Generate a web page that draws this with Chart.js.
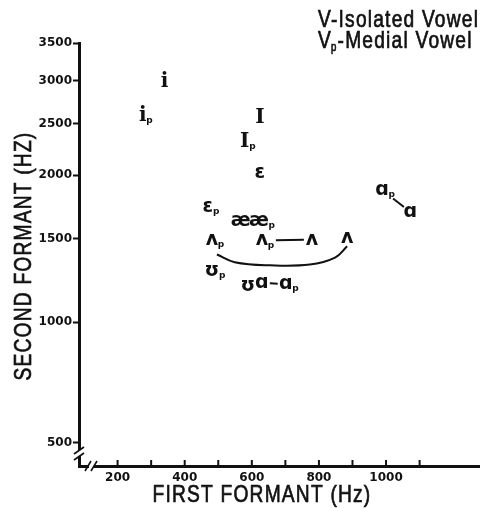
<!DOCTYPE html>
<html>
<head>
<meta charset="utf-8">
<script src="https://cdn.jsdelivr.net/npm/chart.js@4.4.0/dist/chart.umd.min.js"></script>
<style>
  html, body { margin: 0; padding: 0; background: #fff; }
</style>
</head>
<body>
<canvas id="vowel_chart" width="480" height="508"></canvas>
<script>
// vowel symbols; MEDIAL marks the "p" (medial) versions
const VOWELS = ['i', 'i', 'I', 'I', 'ɛ', 'ɛ', 'æ', 'æ', 'ʌ', 'ʌ', 'ʌ', 'ʌ', 'ʊ', 'ʊ', 'ɑ', 'ɑ', 'ɑ', 'ɑ'];
const MEDIAL = [false, true, false, true, false, true, false, true, true, true, false, false, true, false, false, true, true, false];
// first and second formant, Hz
const F1 = [340, 275, 624, 579, 624, 469, 567, 621, 481, 630, 779, 884, 481, 588, 630, 701, 988, 1072];
const F2 = [2980, 2585, 2562, 2313, 2022, 1738, 1631, 1631, 1495, 1490, 1495, 1508, 1291, 1200, 1218, 1210, 1875, 1699];
// pairs joined by a short dash
const LINKS = [[9, 10], [14, 15], [16, 17]];
// brace under the ʌ group
const BRACE_F1 = [496, 549, 654, 773, 848, 884];
const BRACE_F2 = [1395, 1345, 1325, 1330, 1375, 1450];

const X_TICKS = [200, 300, 400, 500, 600, 700, 800, 900, 1000, 1100];
const X_LABELS = [200, 400, 600, 800, 1000];
const Y_TICKS = [500, 1000, 1500, 2000, 2500, 3000, 3500];

// second formant axis is warped (roughly log of f + 400)
const warp = f => Math.log(f + 400);
const unwarp = v => Math.round(Math.exp(v) - 400);

const INK = '#111';
const tickFont = { family: 'DejaVu Sans', weight: 'bold', size: 12 };
const TEXT_FONT = '24px "Liberation Sans"';
const SQUEEZE = 0.8;

// narrow, slightly spaced lettering like the typed labels of the original
function squeezed(c, text, x, y, sx) {
    c.save();
    c.translate(x, y);
    c.scale(sx, 1);
    c.letterSpacing = '1.5px';
    c.lineWidth = 0.7;
    c.fillText(text, 0, 0);
    c.strokeText(text, 0, 0);
    c.letterSpacing = '0px';
    c.restore();
}

function squeezedWidth(c, text, sx) {
    c.letterSpacing = '1.5px';
    const w = c.measureText(text).width * sx;
    c.letterSpacing = '0px';
    return w;
}

const marks = {
    id: 'marks',
    afterDraw(chart) {
        const c = chart.ctx;
        const area = chart.chartArea;
        const xs = chart.scales.x;
        const pts = chart.getDatasetMeta(0).data;
        c.save();
        c.letterSpacing = '0px';
        c.fillStyle = INK;
        c.strokeStyle = INK;

        // x ticks point inwards
        c.lineWidth = 2;
        X_TICKS.forEach(v => {
            const px = xs.getPixelForValue(v);
            c.beginPath();
            c.moveTo(px, area.bottom);
            c.lineTo(px, area.bottom - 6);
            c.stroke();
        });

        // axis breaks
        c.fillStyle = '#fff';
        c.fillRect(area.left - 3, area.bottom - 16, 6, 6);
        c.fillRect(area.left + 10, area.bottom - 3, 5, 6);
        c.fillStyle = INK;
        c.lineWidth = 1.6;
        [-16, -10].forEach(dy => {
            c.beginPath();
            c.moveTo(area.left - 5, area.bottom + dy + 4);
            c.lineTo(area.left + 5, area.bottom + dy - 3);
            c.stroke();
        });
        [9, 15].forEach(dx => {
            c.beginPath();
            c.moveTo(area.left + dx - 3, area.bottom + 5);
            c.lineTo(area.left + dx + 3, area.bottom - 5);
            c.stroke();
        });

        // vowel symbols
        c.textAlign = 'center';
        c.textBaseline = 'middle';
        pts.forEach((p, i) => {
            const serif = VOWELS[i] === 'i' || VOWELS[i] === 'I';
            c.font = serif ? 'bold 20px "DejaVu Serif"' : 'bold 19px "DejaVu Sans"';
            const w = c.measureText(VOWELS[i]).width;
            c.fillText(VOWELS[i], p.x, p.y);
            if (MEDIAL[i]) {
                c.font = 'bold 9px "DejaVu Sans"';
                c.fillText('p', p.x + w / 2 + 3, p.y + 5);
            }
        });

        // dashes between pairs
        c.lineWidth = 2;
        LINKS.forEach(([a, b]) => {
            const p = pts[a], q = pts[b];
            const dx = q.x - p.x, dy = q.y - p.y, d = Math.hypot(dx, dy);
            const g0 = MEDIAL[a] ? 14 : 8, g1 = 8;
            c.beginPath();
            c.moveTo(p.x + dx * g0 / d, p.y + dy * g0 / d);
            c.lineTo(q.x - dx * g1 / d, q.y - dy * g1 / d);
            c.stroke();
        });

        // titles and key
        c.font = TEXT_FONT;
        c.textBaseline = 'alphabetic';
        c.textAlign = 'center';
        squeezed(c, 'FIRST FORMANT (Hz)', 262, 502, SQUEEZE);
        c.save();
        c.translate(31, 256);
        c.rotate(-Math.PI / 2);
        squeezed(c, 'SECOND FORMANT (HZ)', 0, 0, SQUEEZE);
        c.restore();

        c.textAlign = 'left';
        squeezed(c, 'V-Isolated Vowel', 318, 27, SQUEEZE);
        let x = 318;
        squeezed(c, 'V', x, 48, SQUEEZE);
        x += squeezedWidth(c, 'V', SQUEEZE) - 1;
        c.font = '12px "Liberation Sans"';
        squeezed(c, 'p', x, 51, SQUEEZE);
        x += squeezedWidth(c, 'p', SQUEEZE);
        c.font = TEXT_FONT;
        squeezed(c, '-Medial Vowel', x, 48, SQUEEZE);
        c.letterSpacing = '0px';
        c.restore();
    }
};

let can = document.getElementById('vowel_chart');
let chart = new Chart(can.getContext('2d'), {
    type: 'scatter',
    data: {
        datasets: [{
            label: 'Vowels',
            data: F1.map((f, i) => ({ x: f, y: warp(F2[i]) })),
            pointRadius: 0,
            showLine: false
        },
        {
            label: 'Brace',
            data: BRACE_F1.map((f, i) => ({ x: f, y: warp(BRACE_F2[i]) })),
            showLine: true,
            borderColor: INK,
            borderWidth: 2,
            tension: 0.4,
            pointRadius: 0
        }]
    },
    options: {
        responsive: false,
        animation: false,
        layout: { padding: { left: 38, right: 1, top: 43, bottom: 22 } },
        plugins: {
            legend: { display: false },
            tooltip: { enabled: false }
        },
        scales: {
            x: {
                type: 'linear',
                min: 85,
                max: 1277,
                afterBuildTicks: s => { s.ticks = X_TICKS.map(v => ({ value: v })); },
                afterFit: s => { s.height = 20; },
                border: { color: INK, width: 3 },
                grid: { drawOnChartArea: false, drawTicks: false },
                ticks: {
                    padding: 5,
                    autoSkip: false,
                    maxRotation: 0,
                    color: INK,
                    font: tickFont,
                    callback: v => X_LABELS.includes(v) ? v : ''
                }
            },
            y: {
                type: 'linear',
                min: warp(426),
                max: warp(3500),
                afterBuildTicks: s => { s.ticks = Y_TICKS.map(v => ({ value: warp(v) })); },
                afterFit: s => { s.width = 41; },
                border: { color: INK, width: 3 },
                grid: { drawOnChartArea: false, tickLength: 6, tickWidth: 2, tickColor: INK },
                ticks: {
                    padding: 1,
                    color: INK,
                    font: tickFont,
                    callback: v => unwarp(v)
                }
            }
        }
    },
    plugins: [marks]
});
</script>
</body>
</html>
